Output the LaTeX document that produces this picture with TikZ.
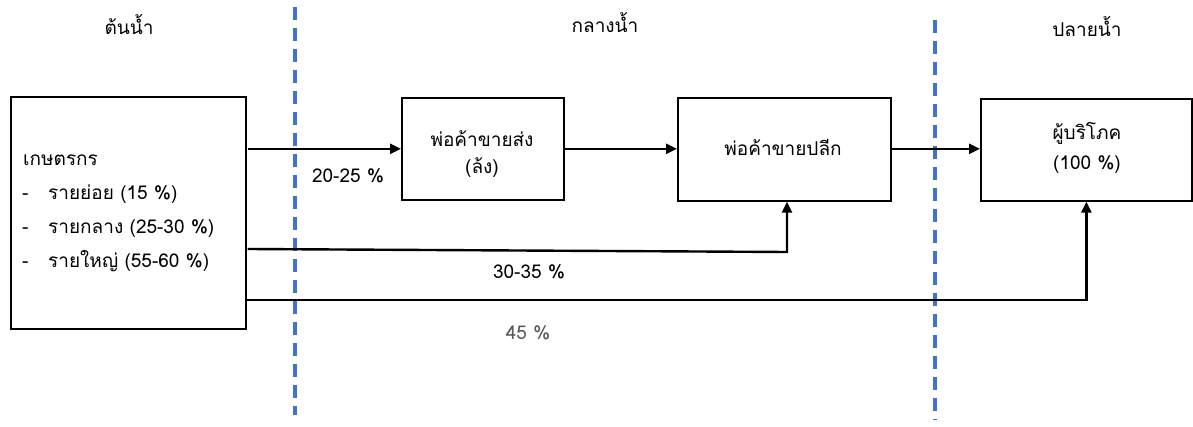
\documentclass[tikz,border=0pt]{standalone}
\usepackage{fontspec}
\newfontfamily\thaifont[Script=Thai]{Loma}
\usetikzlibrary{arrows.meta}
\definecolor{zoneblue}{HTML}{4472C4}
\definecolor{softgray}{HTML}{595959}
\begin{document}
\begin{tikzpicture}[x=1pt,y=-1pt,
  every node/.style={font=\thaifont\fontsize{19}{23}\selectfont, inner sep=0pt},
  box/.style={draw, line width=1.7pt, anchor=north west},
  flow/.style={line width=2.4pt, -{Triangle[length=11pt,width=10pt]}},
  zone/.style={draw=zoneblue, line width=3.4pt, dash pattern=on 13pt off 8pt},
  lbl/.style={anchor=base}]
\useasboundingbox (0,0) rectangle (1193,427);

% zone separators
\draw[zone] (295,7) -- (295,415);
\draw[zone] (935,20) -- (935,420);

% zone titles
\node[lbl] (upstream) at (129,35) {ต้นน้ำ};
\node[lbl] (midstream) at (605,33) {กลางน้ำ};
\node[lbl] (downstream) at (1087,37) {ปลายน้ำ};

% boxes
\node[box, minimum width=235pt, minimum height=232pt] (farmer) at (10,96) {};
\node[box, minimum width=162pt, minimum height=102pt] (wholesale) at (401,97) {};
\node[box, minimum width=213pt, minimum height=103pt] (retail) at (677,97) {};
\node[box, minimum width=211pt, minimum height=102pt] (consumer) at (980,98) {};

% farmer text
\node[lbl, anchor=base west] (f0) at (23,166) {เกษตรกร};
\node[lbl, anchor=base west] (d1) at (22,200) {-};
\node[lbl, anchor=base west] (f1) at (48,200) {รายย่อย (15 \%)};
\node[lbl, anchor=base west] (d2) at (22,234) {-};
\node[lbl, anchor=base west] (f2) at (48,234) {รายกลาง (25-30 \%)};
\node[lbl, anchor=base west] (d3) at (22,268) {-};
\node[lbl, anchor=base west] (f3) at (48,268) {รายใหญ่ (55-60 \%)};

% box texts
\node[lbl] (w1) at (482,147) {พ่อค้าขายส่ง};
\node[lbl] (w2) at (482,174) {(ล้ง)};
\node[lbl] (r1) at (783,156) {พ่อค้าขายปลีก};
\node[lbl] (c1) at (1087,140) {ผู้บริโภค};
\node[lbl] (c2) at (1087,170) {(100 \%)};

% flow labels
\node[lbl] (p1) at (348,183) {20-25 \%};
\node[lbl] (p2) at (529,279) {30-35 \%};
\node[lbl, text=softgray] (p3) at (528,339) {45 \%};

% connectors
\coordinate (a2) at ([xshift=1pt]farmer.east |- 0,249);
\coordinate (b2) at (787,252);
\coordinate (a3) at (farmer.east |- 0,300);
\coordinate (b3) at (consumer.south |- 0,300);

\draw[flow] ([xshift=1pt]farmer.east |- wholesale.west) -- (wholesale.west);
\draw[flow] (wholesale.east) -- (retail.west |- wholesale.east);
\draw[flow] (retail.east |- wholesale.east) -- (consumer.west |- wholesale.east);
\draw[flow] (a2) -- (b2) -- (b2 |- retail.south);
\draw[flow] (a3) -- (b3) -- (consumer.south);
\end{tikzpicture}
\end{document}
